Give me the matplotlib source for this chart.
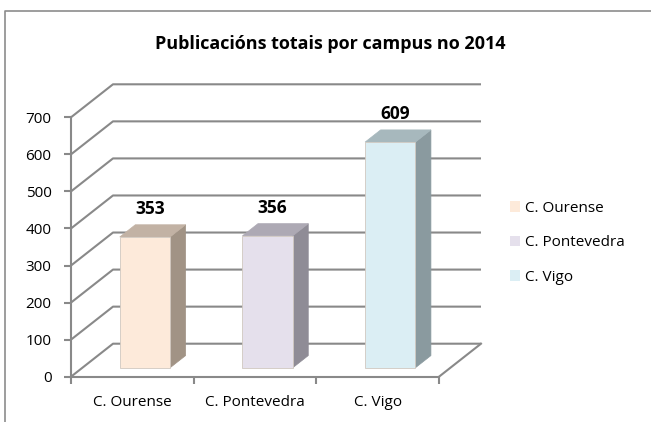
import matplotlib
matplotlib.use('Agg')
import matplotlib.pyplot as plt
from matplotlib.patches import Polygon, Patch
from matplotlib.lines import Line2D

# ---- data ----
categories = ['C. Ourense', 'C. Pontevedra', 'C. Vigo']
values = [353, 356, 609]
yticks = [0, 100, 200, 300, 400, 500, 600, 700]
title = 'Publicacións totais por campus no 2014'

front_colors = ['#FDEADA', '#E5E0EC', '#DBEEF4']
top_colors = ['#C2B2A4', '#ADA9B4', '#A7B8BD']
side_colors = ['#A19385', '#8F8C96', '#8A9A9F']
grid_color = '#898989'

plt.rcParams['font.family'] = ['Open Sans', 'DejaVu Sans']

W, H = 651, 422
fig = plt.figure(figsize=(W / 100, H / 100), dpi=100)

ax_left, ax_right, ax_bottom, ax_top = 71, 439, 376.7, 117.3
ax = fig.add_axes([ax_left / W, 1 - ax_bottom / H, (ax_right - ax_left) / W, (ax_bottom - ax_top) / H])
ax.set_xlim(0, 3)
ax.set_ylim(0, 700)

px_x = (ax_right - ax_left) / 3
px_y = (ax_bottom - ax_top) / 700
DX = 42 / px_x   # depth offset in x data units
DY = 33 / px_y   # depth offset in y data units

lw = 1.5
# walls / gridlines
for v in yticks:
    ax.plot([0, DX, 3 + DX], [v, v + DY, v + DY], color=grid_color, lw=lw,
            clip_on=False, zorder=1, solid_capstyle='butt')
ax.plot([3, 3 + DX], [0, DY], color=grid_color, lw=lw, clip_on=False, zorder=1)

# bars
tf, td, bw = 0.27, 0.37, 0.41
for i, (v, fc, tc, sc) in enumerate(zip(values, front_colors, top_colors, side_colors)):
    xc = i + 0.5 + tf * DX + 0.01
    x0, x1 = xc - bw / 2, xc + bw / 2
    y0 = tf * DY
    y1 = y0 + v
    ddx, ddy = td * DX, td * DY
    front = Polygon([(x0, y0), (x1, y0), (x1, y1), (x0, y1)], closed=True,
                    facecolor=fc, edgecolor='#d0c8c0', lw=0.6, zorder=3, clip_on=False)
    side = Polygon([(x1, y0), (x1 + ddx, y0 + ddy), (x1 + ddx, y1 + ddy), (x1, y1)], closed=True,
                   facecolor=sc, edgecolor=sc, lw=0.5, zorder=3, clip_on=False)
    top = Polygon([(x0, y1), (x1, y1), (x1 + ddx, y1 + ddy), (x0 + ddx, y1 + ddy)], closed=True,
                  facecolor=tc, edgecolor=tc, lw=0.5, zorder=3, clip_on=False)
    for p in (side, top, front):
        ax.add_patch(p)
    ax.text(xc + 0.04, y1 + ddy + 18, str(v), ha='center', va='bottom',
            fontsize=12.5, fontweight='bold', color='black', zorder=5, clip_on=False)

# axes styling
for s in ('top', 'right'):
    ax.spines[s].set_visible(False)
for s in ('left', 'bottom'):
    ax.spines[s].set_color(grid_color)
    ax.spines[s].set_linewidth(lw)
ax.set_yticks(yticks)
ax.set_yticklabels([str(t) for t in yticks])
ax.tick_params(axis='y', length=5, width=lw, color=grid_color, pad=9, labelsize=11)
ax.set_xticks([0, 1, 2, 3])
ax.set_xticklabels([])
ax.set_xticks([0.5, 1.5, 2.5], minor=True)
ax.set_xticklabels(categories, minor=True)
ax.tick_params(axis='x', which='major', length=5, width=lw, color=grid_color)
ax.tick_params(axis='x', which='minor', length=0, pad=13, labelsize=11)
ax.patch.set_visible(False)

# title
fig.text(330 / W, 1 - 44 / H, title, ha='center', va='center', fontsize=13,
         fontweight='bold', color='black')

# legend
handles = [Patch(facecolor=c, edgecolor='none', label=l) for c, l in zip(front_colors, categories)]
fig.legend(handles=handles, loc='center left', bbox_to_anchor=(510 / W, 1 - 243 / H),
           frameon=False, handlelength=0.68, handleheight=0.68, handletextpad=0.3,
           labelspacing=1.28, fontsize=11, borderaxespad=0, borderpad=0)

# chart frame (cropped)
fig.add_artist(Line2D([5 / W, 5 / W, 1], [0, 1 - 11 / H, 1 - 11 / H],
                      transform=fig.transFigure, color='#8c8c8c', lw=1.2))

fig.savefig('out.png', dpi=100)
